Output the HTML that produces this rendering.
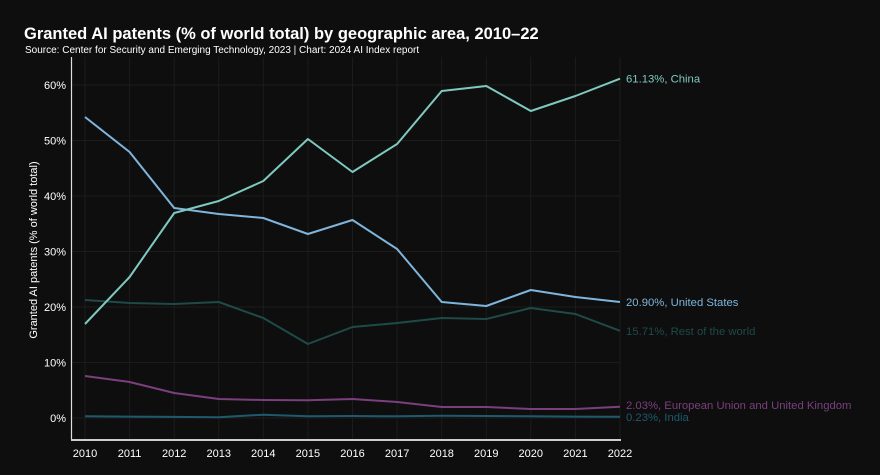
<!DOCTYPE html>
<html><head><meta charset="utf-8"><style>
html,body{margin:0;padding:0;background:#0e0e0e;}
svg{display:block;font-family:"Liberation Sans",sans-serif;}
</style></head><body>
<svg width="880" height="475" viewBox="0 0 880 475" xmlns="http://www.w3.org/2000/svg">
<rect width="880" height="475" fill="#0e0e0e"/>
<text x="24" y="39" fill="#fff" font-size="16.5" font-weight="bold">Granted AI patents (% of world total) by geographic area, 2010–22</text>
<text x="25" y="53" fill="#fff" font-size="10">Source: Center for Security and Emerging Technology, 2023 | Chart: 2024 AI Index report</text>
<g stroke="#1c1c1c" stroke-width="1">
<line x1="72" y1="85" x2="620" y2="85"/><line x1="72" y1="140.5" x2="620" y2="140.5"/><line x1="72" y1="196" x2="620" y2="196"/><line x1="72" y1="251.5" x2="620" y2="251.5"/><line x1="72" y1="307" x2="620" y2="307"/><line x1="72" y1="362.5" x2="620" y2="362.5"/><line x1="72" y1="418" x2="620" y2="418"/>
<line x1="85" y1="57" x2="85" y2="440"/><line x1="129.6" y1="57" x2="129.6" y2="440"/><line x1="174.2" y1="57" x2="174.2" y2="440"/><line x1="218.8" y1="57" x2="218.8" y2="440"/><line x1="263.3" y1="57" x2="263.3" y2="440"/><line x1="307.9" y1="57" x2="307.9" y2="440"/><line x1="352.5" y1="57" x2="352.5" y2="440"/><line x1="397.1" y1="57" x2="397.1" y2="440"/><line x1="441.7" y1="57" x2="441.7" y2="440"/><line x1="486.3" y1="57" x2="486.3" y2="440"/><line x1="530.8" y1="57" x2="530.8" y2="440"/><line x1="575.4" y1="57" x2="575.4" y2="440"/><line x1="620" y1="57" x2="620" y2="440"/>
</g>
<line x1="71.5" y1="57" x2="71.5" y2="440" stroke="#ddd" stroke-width="1.2"/>
<line x1="71" y1="440" x2="621" y2="440" stroke="#ccc" stroke-width="2"/>
<g fill="#fff" font-size="11" text-anchor="end">
<text x="66" y="89">60%</text><text x="66" y="144.5">50%</text><text x="66" y="200">40%</text><text x="66" y="255.5">30%</text><text x="66" y="311">20%</text><text x="66" y="366.5">10%</text><text x="66" y="422">0%</text>
</g>
<g fill="#fff" font-size="11" text-anchor="middle">
<text x="85" y="457">2010</text><text x="129.6" y="457">2011</text><text x="174.2" y="457">2012</text><text x="218.8" y="457">2013</text><text x="263.3" y="457">2014</text><text x="307.9" y="457">2015</text><text x="352.5" y="457">2016</text><text x="397.1" y="457">2017</text><text x="441.7" y="457">2018</text><text x="486.3" y="457">2019</text><text x="530.8" y="457">2020</text><text x="575.4" y="457">2021</text><text x="620" y="457">2022</text>
</g>
<text transform="translate(37,250) rotate(-90)" fill="#fff" font-size="11" text-anchor="middle">Granted AI patents (% of world total)</text>
<g fill="none" stroke-width="2" stroke-linejoin="round">
<polyline stroke="#1e5a6e" points="85,416.3 129.6,416.6 174.2,416.9 218.8,417.2 263.3,414.7 307.9,416.3 352.5,416 397.1,416.3 441.7,415.8 486.3,416 530.8,416.3 575.4,416.6 620,416.7"/>
<polyline stroke="#7b3f7e" points="85,376 129.6,382 174.2,393 218.8,399 263.3,400 307.9,400.3 352.5,399 397.1,402 441.7,407 486.3,407 530.8,409 575.4,409 620,406.7"/>
<polyline stroke="#1f4a48" points="85,300 129.6,303 174.2,304 218.8,302 263.3,318 307.9,344 352.5,327 397.1,323 441.7,318 486.3,319 530.8,308 575.4,314 620,330.8"/>
<polyline stroke="#7fb5dd" points="85,117 129.6,152 174.2,208 218.8,214 263.3,218 307.9,234 352.5,220 397.1,249 441.7,302 486.3,306 530.8,290 575.4,297 620,302"/>
<polyline stroke="#7ecac0" points="85,324 129.6,277 174.2,213 218.8,201 263.3,181 307.9,139 352.5,172 397.1,144 441.7,91 486.3,86 530.8,111 575.4,96 620,78.7"/>
</g>
<g font-size="11.3">
<text x="626" y="82.5" fill="#7ecac0">61.13%, China</text>
<text x="626" y="306" fill="#7fb5dd">20.90%, United States</text>
<text x="626" y="335" fill="#1f4a48">15.71%, Rest of the world</text>
<text x="626" y="409" fill="#7b3f7e">2.03%, European Union and United Kingdom</text>
<text x="626" y="421" fill="#1e5a6e">0.23%, India</text>
</g>
</svg>
</body></html>
